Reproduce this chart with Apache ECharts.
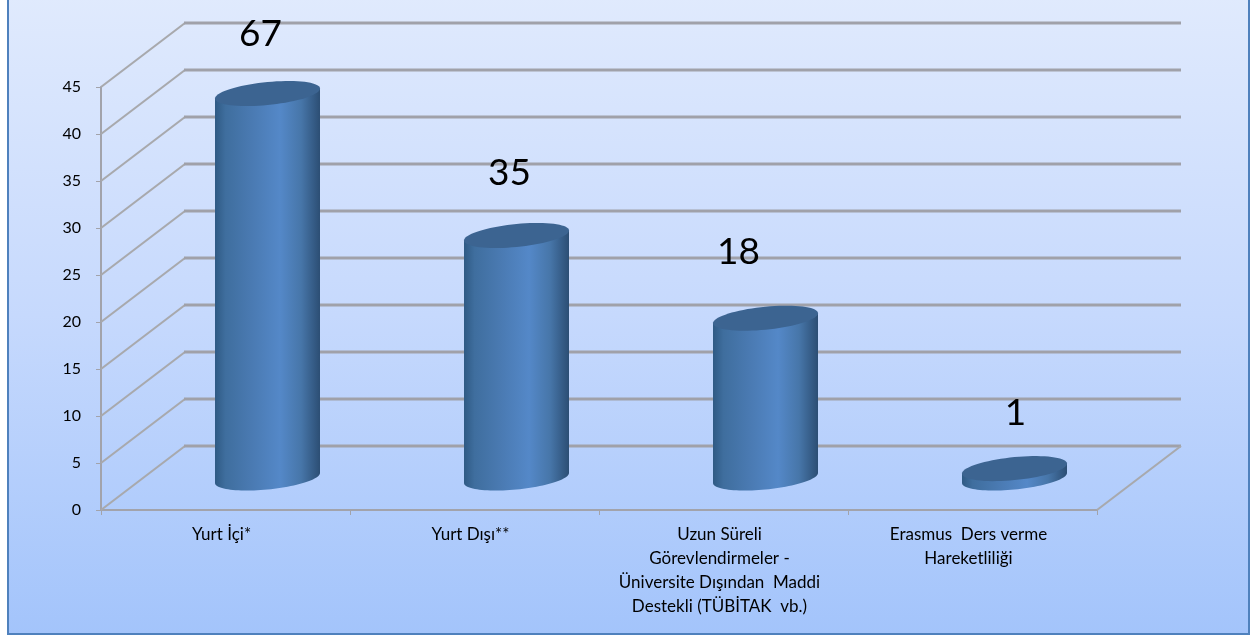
<!DOCTYPE html>
<html>
<head>
<meta charset="utf-8">
<style>html,body{margin:0;padding:0;background:#fff}#c{width:1251px;height:636px}</style>
<script src="https://cdn.jsdelivr.net/npm/echarts@6/dist/echarts.min.js"></script>
</head>
<body>
<div id="c"></div>
<script>
const categories = ["Yurt İçi*", "Yurt Dışı**", "Uzun Süreli\nGörevlendirmeler -\nÜniversite Dışından  Maddi\nDestekli (TÜBİTAK  vb.)", "Erasmus  Ders verme\nHareketliliği"];
const barHeights = [40.9, 25.8, 17, 1];
const shownLabels = [67, 35, 18, 1];
const yTicks = [0, 5, 10, 15, 20, 25, 30, 35, 40, 45];

const FONT = 'Lato, "Open Sans", sans-serif';
const DEPTH_X = 84, DEPTH_Y = -64;
const RX = 52.5, RY = 11.5, TILT = 5;
const GRID = '#a2a3ab';
const labelOffsets = [[-7, -59], [-7, -62], [-27, -66], [1, -56]];

function ellipsePts(cx, cy, from, to, n) {
  const pts = [];
  for (let i = 0; i <= n; i++) {
    const t = from + (to - from) * i / n;
    pts.push([cx + RX * Math.cos(t), cy + RY * Math.sin(t) - TILT * Math.cos(t)]);
  }
  return pts;
}

function renderWall(params, api) {
  const v = api.value(0);
  const cs = params.coordSys;
  const p = api.coord([0, v]);
  const x0 = cs.x, y = p[1];
  const children = [
    {
      type: 'line',
      shape: { x1: x0, y1: y, x2: x0 + DEPTH_X, y2: y + DEPTH_Y },
      style: { stroke: '#a8a9ad', lineWidth: 2.2 }
    },
    {
      type: 'line',
      shape: { x1: x0 + DEPTH_X - 1, y1: y + DEPTH_Y, x2: cs.x + cs.width + DEPTH_X, y2: y + DEPTH_Y },
      style: { stroke: '#a0a1a9', lineWidth: 3 }
    }
  ];
  if (v === 0) {
    children.push({
      type: 'line',
      shape: { x1: cs.x + cs.width, y1: y, x2: cs.x + cs.width + DEPTH_X, y2: y + DEPTH_Y },
      style: { stroke: '#a8a9ad', lineWidth: 2.2 }
    });
  }
  return { type: 'group', children };
}

function renderBar(params, api) {
  const i = api.value(0);
  const base = api.coord([i, 0]);
  const top = api.coord([i, api.value(1)]);
  const cx = base[0] + DEPTH_X / 2;
  const by = base[1] + DEPTH_Y / 2;
  const ty = top[1] + DEPTH_Y / 2;
  const lower = ellipsePts(cx, by, Math.PI, 0, 48);
  const side = lower.concat([[cx + RX, ty - TILT], [cx - RX, ty + TILT]]);
  const off = labelOffsets[i];
  return {
    type: 'group',
    children: [
      {
        type: 'polygon',
        shape: { points: side },
        style: {
          fill: {
            type: 'linear', x: 0, y: 0, x2: 1, y2: 0,
            colorStops: [
              { offset: 0, color: '#2f5a84' },
              { offset: 0.1, color: '#3f6e9e' },
              { offset: 0.35, color: '#4a7ab2' },
              { offset: 0.62, color: '#5488c8' },
              { offset: 0.82, color: '#4776a9' },
              { offset: 1, color: '#2c4e74' }
            ]
          }
        }
      },
      {
        type: 'polygon',
        shape: { points: ellipsePts(cx, ty, 0, Math.PI * 2, 72) },
        style: { fill: '#3c6491' }
      },
      {
        type: 'text',
        style: {
          text: String(api.value(2)),
          x: cx + off[0], y: ty + off[1],
          align: 'center', verticalAlign: 'middle',
          font: '37px ' + FONT, fill: '#000'
        }
      }
    ]
  };
}

const chart = echarts.init(document.getElementById('c'), null, { renderer: 'canvas' });
chart.setOption({
  animation: false,
  graphic: [{
    type: 'rect', z: -10,
    shape: { x: 8, y: -3, width: 1241, height: 637 },
    style: {
      fill: {
        type: 'linear', x: 0, y: 0, x2: 0, y2: 1,
        colorStops: [{ offset: 0, color: '#e0eafd' }, { offset: 0.5, color: '#c6d9fd' }, { offset: 1, color: '#a3c4fb' }]
      },
      stroke: '#4f81bd', lineWidth: 2
    }
  }],
  grid: { left: 101, top: 87, width: 996, height: 423, containLabel: false },
  xAxis: {
    type: 'category',
    data: categories,
    axisLine: { lineStyle: { color: GRID, width: 2 } },
    axisTick: { show: true, length: 5, lineStyle: { color: GRID, width: 1 } },
    axisLabel: { interval: 0, color: '#000', fontFamily: FONT, fontSize: 17, lineHeight: 24, margin: 13, padding: [0, 8, 0, 0] },
    splitLine: { show: false }
  },
  yAxis: {
    type: 'value', min: 0, max: 45, interval: 5,
    axisLine: { show: true, lineStyle: { color: GRID, width: 2 } },
    axisTick: { show: true, length: 5, lineStyle: { color: GRID, width: 1 } },
    axisLabel: { color: '#000', fontFamily: FONT, fontSize: 16, margin: 20, padding: [3, 0, 0, 0] },
    splitLine: { show: false }
  },
  series: [
    { type: 'custom', z: 1, silent: true, clip: false, renderItem: renderWall, data: yTicks.map(v => [v]) },
    { type: 'custom', z: 3, silent: true, clip: false, renderItem: renderBar,
      data: barHeights.map((h, i) => [i, h, shownLabels[i]]) }
  ]
});
</script>
</body>
</html>
